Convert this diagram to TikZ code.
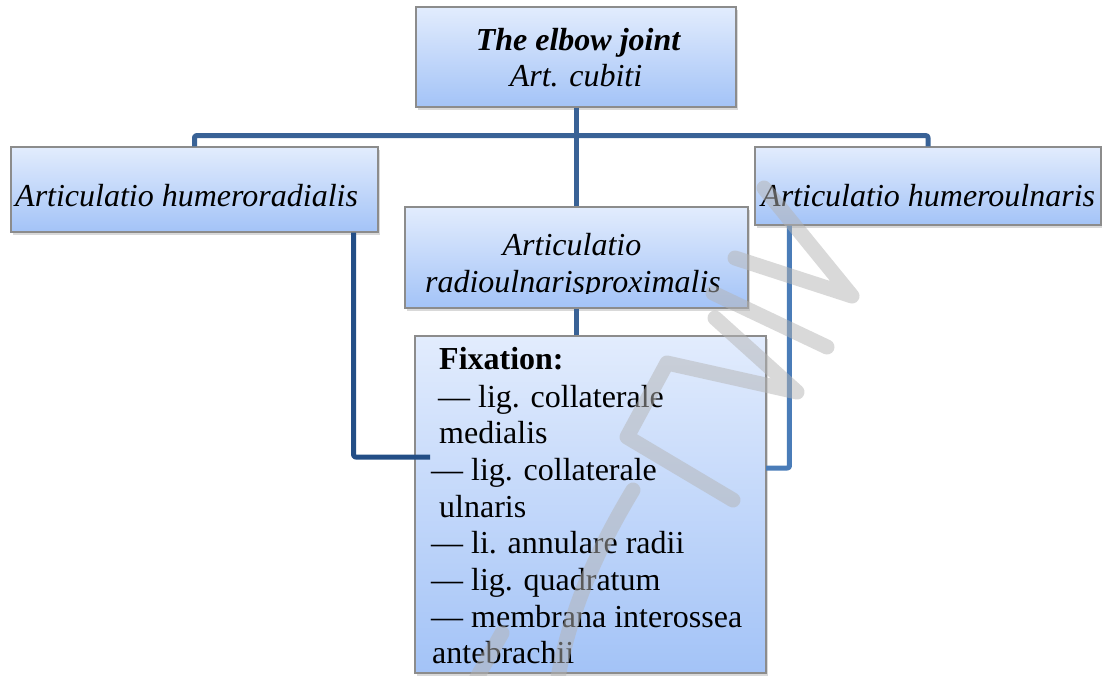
\documentclass[tikz,border=0pt]{standalone}
\usepackage{fontspec}
\setmainfont{Liberation Serif}
\usetikzlibrary{shadows}

\definecolor{boxtop}{RGB}{226,236,253}
\definecolor{boxbot}{RGB}{163,195,247}
\definecolor{boxedge}{RGB}{140,140,140}
\definecolor{wiremid}{RGB}{57,98,150}
\definecolor{wiredark}{RGB}{35,78,134}
\definecolor{wirelight}{RGB}{74,124,184}
\definecolor{markgray}{RGB}{180,180,180}

\tikzset{
  panel/.style={draw=boxedge, line width=1.2pt, top color=boxtop, bottom color=boxbot,
    inner sep=0pt,
    drop shadow={opacity=0.3, shadow xshift=2pt, shadow yshift=-2.5pt}},
  wire/.style={line width=5pt, line join=round, rounded corners=2pt},
  txt/.style={inner sep=0pt, anchor=base west, font=\fontsize{32}{36.8}\selectfont},
  ctxt/.style={txt, anchor=base},
  stamp/.style={draw=markgray, opacity=0.5, line width=15pt, line cap=round, line join=round}
}

\begin{document}
\begin{tikzpicture}[x=1pt, y=-1pt]
  \useasboundingbox (0,0) rectangle (1102,675);

  % boxes
  \node[panel, minimum width=320pt, minimum height=100pt] (elbow) at (576,57) {};
  \node[panel, minimum width=367pt, minimum height=85pt]  (lbox)  at (194.5,189.5) {};
  \node[panel, minimum width=346pt, minimum height=78pt]  (rbox)  at (928,186) {};
  \node[panel, minimum width=343pt, minimum height=101pt] (mid)   at (576.5,257.5) {};
  \node[panel, minimum width=351pt, minimum height=337pt] (fix)   at (590.5,504.5) {};

  % texts
  \node[ctxt] (elbowA) at (578,50) {\bfseries\itshape The elbow joint};
  \node[ctxt] (elbowB) at (576,86) {\itshape Art. cubiti};
  \node[txt] (ltext) at (15,206) {\itshape Articulatio humeroradialis};
  \node[txt] (rtext) at (761,206) {\itshape Articulatio humeroulnaris};
  \begin{scope}
    \clip (405,207) rectangle (748,293.5);
    \node[ctxt] (midA) at (572,255) {\itshape Articulatio};
    \node[ctxt] (midB) at (573,292) {\itshape radioulnarisproximalis};
  \end{scope}
  \foreach \px/\py/\t [count=\i] in {
      439/369/{\bfseries Fixation:},
      438/407/{— lig. collaterale},
      439/443/{medialis},
      431/480/{— lig. collaterale},
      439/517/{ulnaris},
      431/553/{— li. annulare radii},
      431/590/{— lig. quadratum},
      431/627/{— membrana interossea},
      432/663/{antebrachii}}
    \node[txt] (fx\i) at (\px,\py) {\t};

  % connectors
  \coordinate (lhook) at (430,457);
  \coordinate (rhook) at (766,468);
  \draw[wire, draw=wiremid] (elbow.south) -- (elbow.south |- mid.north);
  \draw[wire, draw=wiremid] (lbox.north) |- ([yshift=-28pt]elbow.south) -| (rbox.north);
  \draw[wire, draw=wiremid] (mid.south) -- (mid.south |- fix.north);
  \draw[wire, draw=wiredark] (lbox.south east) ++(-25,0) |- (lhook);
  \draw[wire, draw=wirelight] (rbox.south west) ++(35,0) |- (rhook);

  % watermark strokes
  \begin{scope}
    \clip (0,0) rectangle (1102,675);
    \draw[stamp] (764,188) -- (852,296) -- (735,258);
    \draw[stamp] (713,293) -- (827,347);
    \draw[stamp] (715,318) -- (797,392) -- (667,363) -- (627,437) -- (733,500);
    \draw[stamp] (633,490) .. controls (600,545) and (568,610) .. (556,690);
    \draw[stamp] (502,633) -- (470,690);
  \end{scope}
\end{tikzpicture}
\end{document}
